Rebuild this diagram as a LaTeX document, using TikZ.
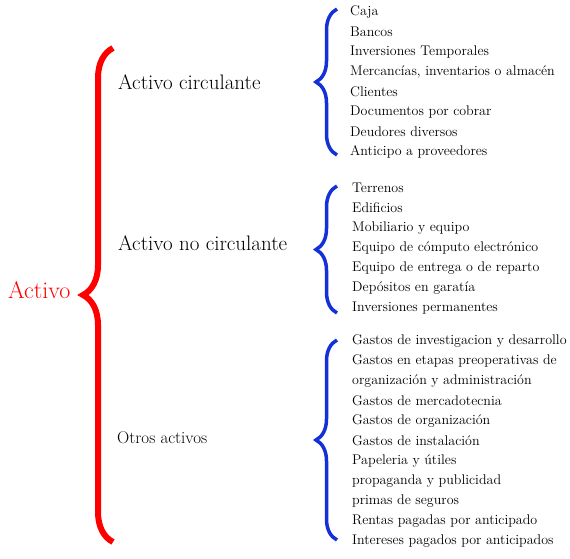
\documentclass[tikz,border=0pt]{standalone}
\usepackage{tikz}
\usetikzlibrary{positioning, decorations.pathreplacing}
\usepackage{xcolor}

\definecolor{bracered}{RGB}{255,0,0}
\definecolor{braceblue}{RGB}{20,48,215}

\begin{document}
\begin{tikzpicture}[
    x=1pt, y=-1pt,
    item/.style={anchor=west, inner sep=0pt, font=\fontsize{14}{16}\selectfont},
    head/.style={anchor=west, inner sep=0pt, font=\fontsize{21}{24}\selectfont},
    bigbrace/.style={decorate, decoration={brace, amplitude=30pt}, draw=bracered, line width=6pt},
    smallbrace/.style={decorate, decoration={brace, amplitude=21pt}, draw=braceblue, line width=3.5pt}
]
  \useasboundingbox (0,0) rectangle (570,558);

  % --- ROOT ---
  \node[anchor=west, inner sep=0pt, text=bracered, font=\fontsize{24}{28}\selectfont] (activo) at (8,290) {Activo};
  \coordinate (rtop) at (113,48);
  \coordinate (rbot) at (113,542);

  % --- HEADINGS ---
  \node[head] (circ) at (118,82) {Activo circulante};
  \node[head] (nocirc) at (118,243) {Activo no circulante};
  \node[head, font=\fontsize{17}{20}\selectfont] (otros) at (117,438) {Otros activos};

  % --- ACTIVO CIRCULANTE ---
  \coordinate (atop) at (337,9);
  \coordinate (abot) at (337,155);
  \node[item] (caja) at (350,12) {Caja};
  \node[item] (bancos) at (350,32) {Bancos};
  \node[item] (invtemp) at (350,52) {Inversiones Temporales};
  \node[item] (merc) at (350,72) {Mercancías, inventarios o almacén};
  \node[item] (clientes) at (350,92) {Clientes};
  \node[item] (docs) at (350,112) {Documentos por cobrar};
  \node[item] (deud) at (350,132) {Deudores diversos};
  \node[item] (antic) at (350,152) {Anticipo a proveedores};

  % --- ACTIVO NO CIRCULANTE ---
  \coordinate (btop) at (337,186);
  \coordinate (bbot) at (337,313);
  \node[item] (terr) at (352,188) {Terrenos};
  \node[item] (edif) at (352,208) {Edificios};
  \node[item] (mobil) at (352,228) {Mobiliario y equipo};
  \node[item] (comp) at (352,248) {Equipo de cómputo electrónico};
  \node[item] (entrega) at (352,268) {Equipo de entrega o de reparto};
  \node[item] (depos) at (352,288) {Depósitos en garatía};
  \node[item] (invperm) at (352,308) {Inversiones permanentes};

  % --- OTROS ACTIVOS ---
  \coordinate (ctop) at (337,340);
  \coordinate (cbot) at (337,540);
  \node[item] (invest) at (352,341) {Gastos de investigacion y desarrollo};
  \node[item] (preop) at (352,361) {Gastos en etapas preoperativas de};
  \node[item] (orgadm) at (352,381) {organización y administración};
  \node[item] (merca) at (352,401) {Gastos de mercadotecnia};
  \node[item] (organ) at (352,421) {Gastos de organización};
  \node[item] (instal) at (352,441) {Gastos de instalación};
  \node[item] (papel) at (352,461) {Papeleria y útiles};
  \node[item] (propa) at (352,481) {propaganda y publicidad};
  \node[item] (primas) at (352,501) {primas de seguros};
  \node[item] (rentas) at (352,521) {Rentas pagadas por anticipado};
  \node[item] (inter) at (352,541) {Intereses pagados por anticipados};

  % --- BRACES ---
  \draw[bigbrace] (rbot) -- (rtop);
  \draw[smallbrace] (abot) -- (atop);
  \draw[smallbrace] (bbot) -- (btop);
  \draw[smallbrace] (cbot) -- (ctop);

\end{tikzpicture}
\end{document}
